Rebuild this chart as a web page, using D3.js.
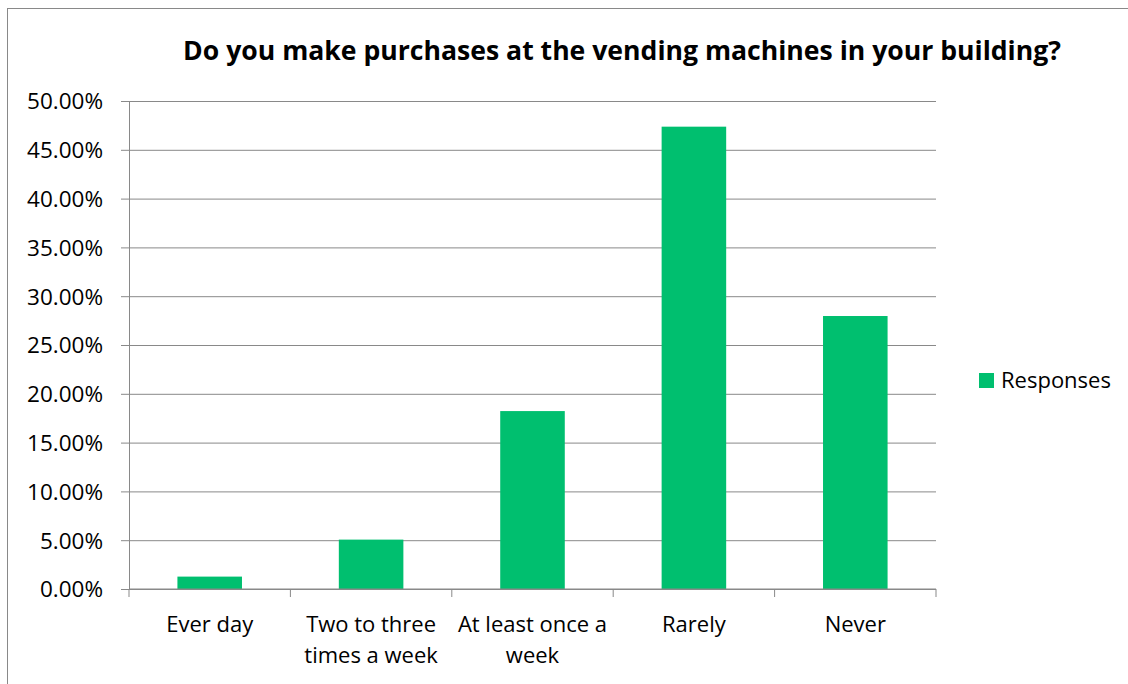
<!DOCTYPE html>
<html lang="en">
<head>
<meta charset="UTF-8">
<title>Vending machines</title>
<script src="https://d3js.org/d3.v7.min.js"></script>
<style>
  body { margin: 0; background: #fff; }
  text { font-family: "Open Sans", sans-serif; fill: #000; }
</style>
</head>
<body>
<svg width="1128" height="684" id="svg1"></svg>
<script>
// chart data
var categories = ["Ever day", "Two to three times a week", "At least once a week", "Rarely", "Never"];
var responses = [1.27, 5.06, 18.23, 47.37, 27.97];
var yTicks = [0, 5, 10, 15, 20, 25, 30, 35, 40, 45, 50];
var seriesName = "Responses";

var svg = d3.select("#svg1"),
    plotL = 129, plotR = 936, plotT = 101, plotB = 589,
    green = "#00bf6f", grid = "#898989";

// outer chart border (right and bottom fall outside the picture)
svg.append("rect")
    .attr("x", 7.5).attr("y", 8.5)
    .attr("width", 1200).attr("height", 800)
    .attr("fill", "none").attr("stroke", grid);

svg.append("text")
    .attr("x", 622).attr("y", 60)
    .attr("text-anchor", "middle")
    .attr("font-size", "26.6px")
    .attr("font-weight", "bold")
    .text("Do you make purchases at the vending machines in your building?");

var x = d3.scaleBand().domain(categories).range([plotL, plotR]).padding(0);
var y = d3.scaleLinear().domain([0, 50]).range([plotB, plotT]);

// gridlines
svg.append("g")
    .attr("transform", "translate(" + plotL + ",0)")
    .call(d3.axisLeft(y).tickValues(yTicks).tickSize(-(plotR - plotL)).tickFormat(""))
    .call(function (g) {
        g.select(".domain").remove();
        g.selectAll("line").attr("stroke", grid).attr("stroke-width", 1);
    });

// y axis with labels
svg.append("g")
    .attr("transform", "translate(" + plotL + ",0)")
    .call(d3.axisLeft(y).tickValues(yTicks).tickSize(8).tickPadding(18)
        .tickFormat(function (d) { return d.toFixed(2) + "%"; }))
    .call(function (g) {
        g.select(".domain").attr("stroke", grid);
        g.selectAll("line").attr("stroke", grid);
        g.selectAll("text").attr("font-size", "22.5px").attr("dy", "0.35em")
            .style("font-family", "'Open Sans', sans-serif").attr("fill", "#000");
    });

// bars
var bw = x.bandwidth() * 0.4;
svg.selectAll(".bar")
    .data(responses)
    .enter().append("rect")
    .attr("class", "bar")
    .attr("x", function (d, i) { return x(categories[i]) + (x.bandwidth() - bw) / 2; })
    .attr("y", function (d) { return y(d); })
    .attr("width", bw)
    .attr("height", function (d) { return y(0) - y(d); })
    .attr("fill", green);

// x axis: ticks at band boundaries
var xa = svg.append("g").attr("transform", "translate(0," + plotB + ")");
xa.append("line").attr("x1", plotL).attr("x2", plotR).attr("stroke", grid);
var edges = categories.map(function (c) { return x(c); }).concat([plotR]);
xa.selectAll(".tk").data(edges).enter().append("line")
    .attr("x1", function (d) { return d; }).attr("x2", function (d) { return d; })
    .attr("y1", 0).attr("y2", 8).attr("stroke", grid);

// wrapped category labels
var lbl = xa.selectAll(".lbl").data(categories).enter().append("text")
    .attr("text-anchor", "middle")
    .attr("font-size", "22px")
    .attr("y", 43);
lbl.each(function (c) {
    var t = d3.select(this), cx = x(c) + x.bandwidth() / 2;
    var words = c.split(" "), line = [], lines = [];
    var tmp = t.append("tspan");
    words.forEach(function (w) {
        line.push(w);
        tmp.text(line.join(" "));
        if (tmp.node().getComputedTextLength() > x.bandwidth() + 2 && line.length > 1) {
            line.pop();
            lines.push(line.join(" "));
            line = [w];
        }
    });
    lines.push(line.join(" "));
    tmp.remove();
    lines.forEach(function (l, i) {
        t.append("tspan").attr("x", cx).attr("dy", i ? 31 : 0).text(l);
    });
});

// legend
svg.append("rect").attr("x", 979).attr("y", 373).attr("width", 15).attr("height", 15).attr("fill", green);
svg.append("text").attr("x", 1001).attr("y", 388).attr("font-size", "22px").text(seriesName);
</script>
</body>
</html>
